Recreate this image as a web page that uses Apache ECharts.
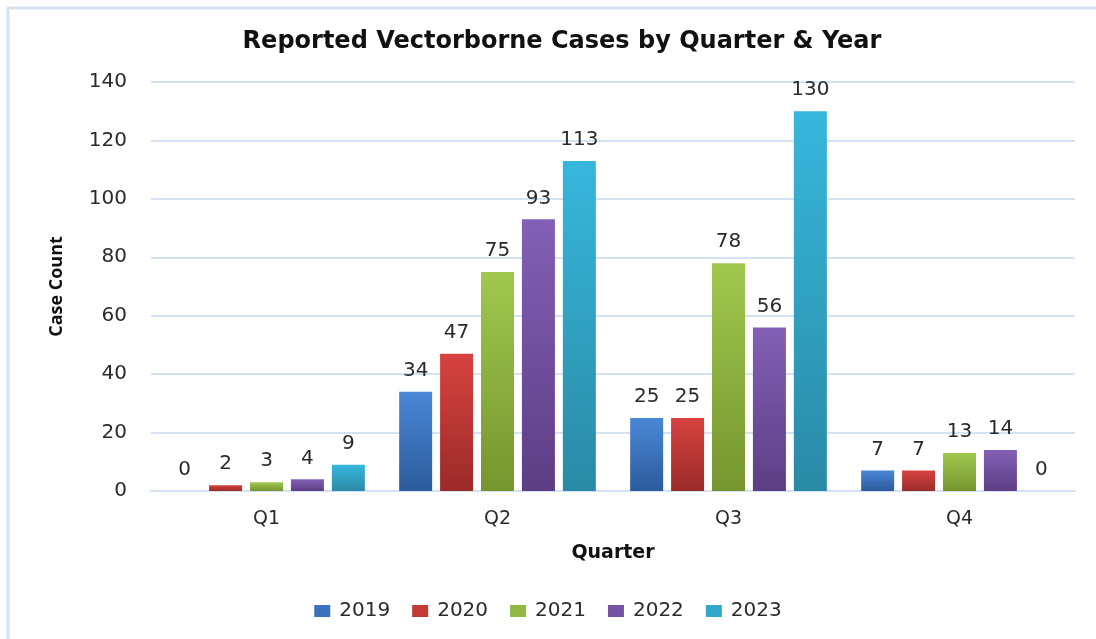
<!DOCTYPE html>
<html><head><meta charset="utf-8">
<script src="https://cdn.jsdelivr.net/npm/echarts@6/dist/echarts.min.js"></script>
<style>html,body{margin:0;padding:0;background:#fff}#c{width:1096px;height:639px}</style>
</head><body><div id="c"></div>
<script>
var categories = ['Q1','Q2','Q3','Q4'];
var years = ['2019','2020','2021','2022','2023'];
var v2019 = [0, 34, 25, 7];
var v2020 = [2, 47, 25, 7];
var v2021 = [3, 75, 78, 13];
var v2022 = [4, 93, 56, 14];
var v2023 = [9, 113, 130, 0];
var yTicks = [0,20,40,60,80,100,120,140];

var values = [v2019, v2020, v2021, v2022, v2023];
var colorsTop = ['#4a87d6','#d6423f','#a0c84e','#8260b6','#37b7dc'];
var colorsBot = ['#2c5b9c','#9b2b29','#76952f','#5c3e84','#2a8aa5'];
var legendColors = ['#3a72c0','#c43a37','#91b844','#7452a4','#33a8cc'];
var font = '"DejaVu Sans", sans-serif';
var font2 = '"Open Sans", sans-serif';

var chart = echarts.init(document.getElementById('c'));
var series = years.map(function(y, i){
  return {
    name: y, type: 'bar', data: values[i],
    barWidth: 33, barGap: '24%',
    itemStyle: {color: new echarts.graphic.LinearGradient(0,0,0,1,[{offset:0,color:colorsTop[i]},{offset:1,color:colorsBot[i]}])},
    label: {show: true, position: 'top', distance: 11, color: '#2a2a2a', fontSize: 20, fontFamily: font}
  };
});
chart.setOption({
  animation: false,
  color: legendColors,
  graphic: [{type:'rect', shape:{x:8,y:8,width:2000,height:2000}, style:{fill:'none', stroke:'#d4e2f2', lineWidth:3}, silent:true}],
  title: {text: 'Reported Vectorborne Cases by Quarter & Year', left: 557, textAlign: 'center', top: 25,
    textStyle: {fontFamily: font, fontWeight: 'bold', fontSize: 24, color: '#111'}},
  grid: {left: 151, right: 21, top: 82, bottom: 148},
  legend: {top: 596, left: 'center', itemWidth: 16, itemHeight: 12, itemGap: 22, icon: 'rect',
    textStyle: {fontFamily: font, fontSize: 20, color: '#2a2a2a', padding: [0,0,0,4]},
    data: years.map(function(y,i){return {name:y, itemStyle:{color:legendColors[i]}};})},
  xAxis: {type: 'category', data: categories, name: 'Quarter', nameLocation: 'middle', nameGap: 53,
    nameTextStyle: {fontFamily: font, fontWeight: 'bold', fontSize: 19, color: '#111'},
    axisLine: {lineStyle: {color: '#d4e2f2', width: 2}}, axisTick: {show: false},
    axisLabel: {fontFamily: font, fontSize: 19, color: '#2a2a2a', margin: 19}},
  yAxis: {type: 'value', min: 0, max: 140, interval: 20, name: 'Case Count', nameLocation: 'middle', nameGap: 85,
    nameTextStyle: {fontFamily: font2, fontWeight: 'bold', fontSize: 18, color: '#111'},
    axisLine: {show: false}, axisTick: {show: false},
    axisLabel: {fontFamily: font, fontSize: 20, color: '#2a2a2a', margin: 24},
    splitLine: {lineStyle: {color: '#d4e2f2', width: 2}}},
  series: series
});
</script></body></html>
